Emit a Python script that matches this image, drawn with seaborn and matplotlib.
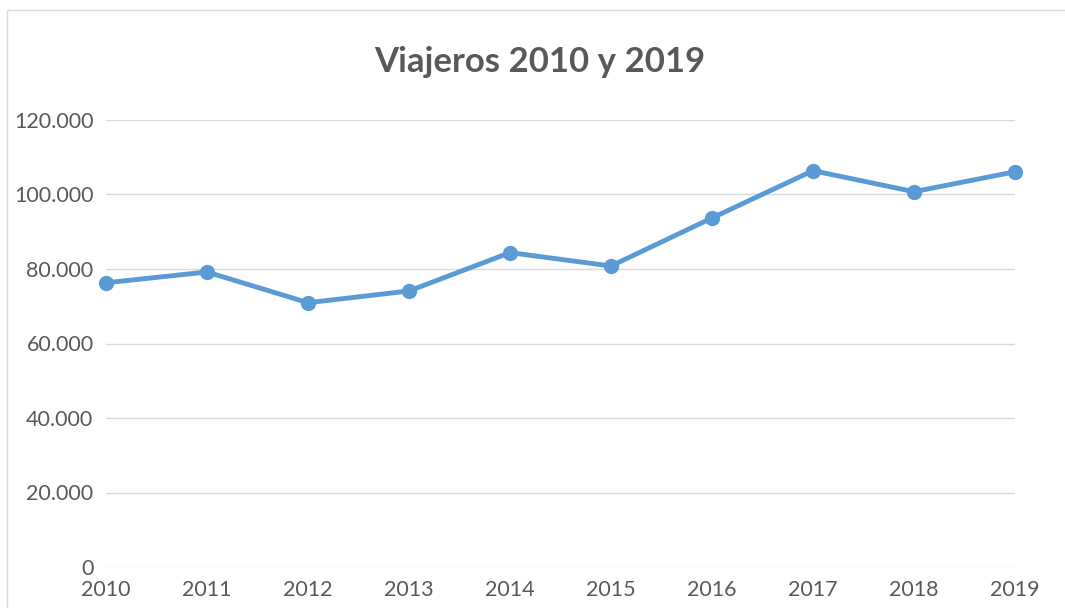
import matplotlib
matplotlib.use('Agg')
import matplotlib.pyplot as plt
import matplotlib.ticker as mticker
from matplotlib.patches import Rectangle
import seaborn as sns
import pandas as pd

years = [2010, 2011, 2012, 2013, 2014, 2015, 2016, 2017, 2018, 2019]
viajeros = [76300, 79200, 70950, 74100, 84400, 80800, 93700, 106400, 100750, 106100]
y_ticks = [0, 20000, 40000, 60000, 80000, 100000, 120000]

df = pd.DataFrame({'year': years, 'viajeros': viajeros})

sns.set_style('white')
plt.rcParams['font.family'] = ['Lato', 'DejaVu Sans']

fig = plt.figure(figsize=(10.65, 6.08), dpi=100)
ax = fig.add_axes([106 / 1065, 1 - 567 / 608, (1015 - 106) / 1065, (567 - 120) / 608])

sns.lineplot(x='year', y='viajeros', data=df, ax=ax, color='#5B9BD5',
             linewidth=3.5, marker='o', markersize=11, markeredgewidth=0, clip_on=False)

ax.set_xlim(2010, 2019)
ax.set_ylim(0, 120000)
ax.set_xticks(years)
ax.set_yticks(y_ticks)
ax.yaxis.set_major_formatter(mticker.FuncFormatter(lambda v, p: f'{int(v):,}'.replace(',', '.')))
ax.grid(axis='y', color='#D9D9D9', linewidth=1)
ax.set_axisbelow(True)
for s in ax.spines.values():
    s.set_visible(False)
ax.tick_params(axis='both', length=0, labelsize=15.5, colors='#595959')
ax.tick_params(axis='y', pad=9)
ax.tick_params(axis='x', pad=9)
for lbl in ax.get_yticklabels():
    lbl.set_verticalalignment('center_baseline')
ax.set_xlabel('')
ax.set_ylabel('')

fig.text(540 / 1065, 1 - 62 / 608, 'Viajeros 2010 y 2019', ha='center', va='center',
         fontsize=25, fontweight='bold', color='#595959')

fig.patches.append(Rectangle((7 / 1065, -0.1), 1.2, 1 - 10 / 608 + 0.1, transform=fig.transFigure,
                             fill=False, edgecolor='#D9D9D9', linewidth=1))

fig.savefig('out.png', dpi=100)
